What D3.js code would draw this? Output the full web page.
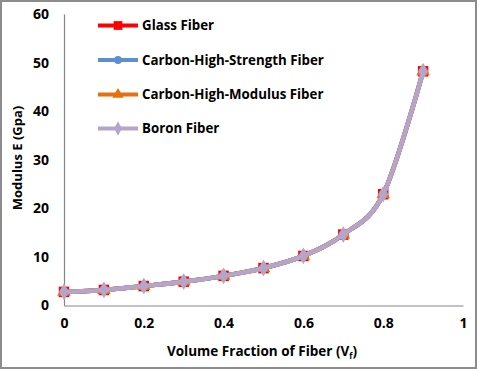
<!DOCTYPE html>
<html>
<head>
<meta charset="utf-8">
<script src="https://cdn.jsdelivr.net/npm/d3@7"></script>
<style>
  body { margin: 0; background: #fff; }
  text { font-family: "Open Sans", "DejaVu Sans", sans-serif; font-weight: bold; fill: #000; }
</style>
</head>
<body>
<div id="chart"></div>
<script>
// volume fraction of fiber
const vf = [0, 0.1, 0.2, 0.3, 0.4, 0.5, 0.6, 0.7, 0.8, 0.9]
// modulus E (GPa) per fiber type, all practically the same curve
const glassFiber = [2.8, 3.2, 4.0, 4.9, 6.1, 7.7, 10.2, 14.6, 22.9, 48.2]
const carbonHighStrength = [2.8, 3.2, 4.0, 4.9, 6.1, 7.7, 10.2, 14.6, 22.9, 48.2]
const carbonHighModulus = [2.8, 3.2, 4.0, 4.9, 6.1, 7.7, 10.2, 14.6, 22.9, 48.2]
const boronFiber = [2.8, 3.2, 4.0, 4.9, 6.1, 7.7, 10.2, 14.6, 22.9, 48.2]
const seriesNames = ["Glass Fiber", "Carbon-High-Strength Fiber", "Carbon-High-Modulus Fiber", "Boron Fiber"]
const xTicks = [0, 0.2, 0.4, 0.6, 0.8, 1]
const yTicks = [0, 10, 20, 30, 40, 50, 60]

const width = 477
const height = 369
const margin = { left: 64, right: 14, top: 14, bottom: 63.5 }

const series = [
    { name: seriesNames[0], values: glassFiber, color: "#FF0000", symbol: d3.symbolSquare, size: 110 },
    { name: seriesNames[1], values: carbonHighStrength, color: "#5B8FD0", symbol: d3.symbolCircle, size: 70 },
    { name: seriesNames[2], values: carbonHighModulus, color: "#E4700E", symbol: d3.symbolTriangle, size: 80 },
    { name: seriesNames[3], values: boronFiber, color: "#B4A5CB", symbol: d3.symbolDiamond, size: 80 }
]

const svg = d3.select("#chart").append("svg")
    .attr("width", width).attr("height", height)

// outer frame
svg.append("rect")
    .attr("x", 1).attr("y", 1).attr("width", width - 2).attr("height", height - 2)
    .attr("fill", "#fff").attr("stroke", "#8c8c8c").attr("stroke-width", 2)

const x = d3.scaleLinear().domain([0, 1]).range([margin.left, width - margin.right])
const y = d3.scaleLinear().domain([0, 60]).range([height - margin.bottom, margin.top])

// axes (no tick marks)
const xAxis = svg.append("g")
    .attr("transform", `translate(0,${y(0)})`)
    .call(d3.axisBottom(x).tickValues(xTicks).tickSize(0).tickPadding(13).tickFormat(d3.format("")))
const yAxis = svg.append("g")
    .attr("transform", `translate(${x(0)},0)`)
    .call(d3.axisLeft(y).tickValues(yTicks).tickSize(0).tickPadding(15))
;[xAxis, yAxis].forEach(g => {
    g.select(".domain").attr("stroke", "#868686").attr("stroke-width", 1.2)
    g.selectAll("text").style("font-size", "14px").style("font-family", null)
})

// lines + markers
const line = d3.line()
    .x((d, i) => x(vf[i]))
    .y(d => y(d))
    .curve(d3.curveCatmullRom.alpha(0))

series.forEach(s => {
    const g = svg.append("g")
    g.append("path")
        .datum(s.values)
        .attr("d", line)
        .attr("fill", "none")
        .attr("stroke", s.color)
        .attr("stroke-width", 4.5)
    g.selectAll("path.mark")
        .data(s.values)
        .join("path")
        .attr("class", "mark")
        .attr("transform", (d, i) => `translate(${x(vf[i])},${y(d)})`)
        .attr("d", d3.symbol().type(s.symbol).size(s.size))
        .attr("fill", s.color)
})

// legend
const legend = svg.append("g")
series.forEach((s, i) => {
    const ly = [25.5, 60, 94.5, 128.5][i]
    legend.append("line")
        .attr("x1", 98).attr("x2", 138).attr("y1", ly).attr("y2", ly)
        .attr("stroke", s.color).attr("stroke-width", 4)
    legend.append("path")
        .attr("transform", `translate(118,${ly})`)
        .attr("d", d3.symbol().type(s.symbol).size(s.size * 0.7))
        .attr("fill", s.color)
    legend.append("text")
        .attr("x", 142).attr("y", ly).attr("dy", "0.35em")
        .style("font-size", "13.3px")
        .text(s.name)
})

// axis titles
svg.append("text")
    .attr("transform", `translate(22,158) rotate(-90)`)
    .attr("text-anchor", "middle")
    .style("font-size", "13px")
    .text("Modulus E (Gpa)")

const xt = svg.append("text")
    .attr("x", 262).attr("y", 356)
    .attr("text-anchor", "middle")
    .style("font-size", "13.5px")
xt.append("tspan").text("Volume Fraction of Fiber (V")
xt.append("tspan").attr("dy", 3).style("font-size", "8px").text("f")
xt.append("tspan").attr("dy", -3).text(")")
</script>
</body>
</html>
